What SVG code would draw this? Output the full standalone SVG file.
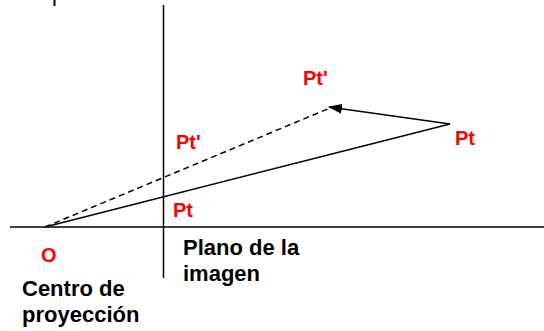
<svg xmlns="http://www.w3.org/2000/svg" width="544" height="331" viewBox="0 0 544 331">
<style>
.ln{stroke:#000;stroke-width:1.5;fill:none}
.red{fill:#ff0000;font-family:"Liberation Sans",Arial,sans-serif;font-size:20px;font-weight:bold}
.blk{fill:#000;font-family:"Liberation Sans",Arial,sans-serif;font-size:22px;font-weight:bold}
</style>
<defs>
<marker id="ah" markerWidth="14" markerHeight="10" refX="13" refY="5" orient="auto" markerUnits="userSpaceOnUse">
<path d="M0,0 L14,5 L0,10 Z" fill="#000"/>
</marker>
</defs>
<rect width="544" height="331" fill="#fff"/>
<rect x="53.5" y="0" width="2" height="6" fill="#000"/>
<g id="axes">
<line class="ln" x1="10" y1="227" x2="544" y2="227"/>
<line class="ln" x1="163.5" y1="5" x2="163.5" y2="278"/>
</g>
<g id="connectors">
<line class="ln" x1="45" y1="227" x2="450" y2="124"/>
<line class="ln" x1="45" y1="227" x2="330" y2="108" stroke-dasharray="6,4"/>
<line class="ln" x1="450" y1="124" x2="329" y2="107" marker-end="url(#ah)"/>
</g>
<g id="node-O"><text class="red" x="41" y="262">O</text></g>
<g id="node-Pt-img"><text class="red" x="173" y="217">Pt</text></g>
<g id="node-Ptp-img"><text class="red" x="176" y="149">Pt'</text></g>
<g id="node-Ptp"><text class="red" x="303" y="85">Pt'</text></g>
<g id="node-Pt"><text class="red" x="455" y="145">Pt</text></g>
<g id="label-plano"><text class="blk" x="183" y="255">Plano de la</text><text class="blk" x="183" y="281">imagen</text></g>
<g id="label-centro"><text class="blk" x="22" y="296">Centro de</text><text class="blk" x="22" y="322">proyección</text></g>
</svg>
